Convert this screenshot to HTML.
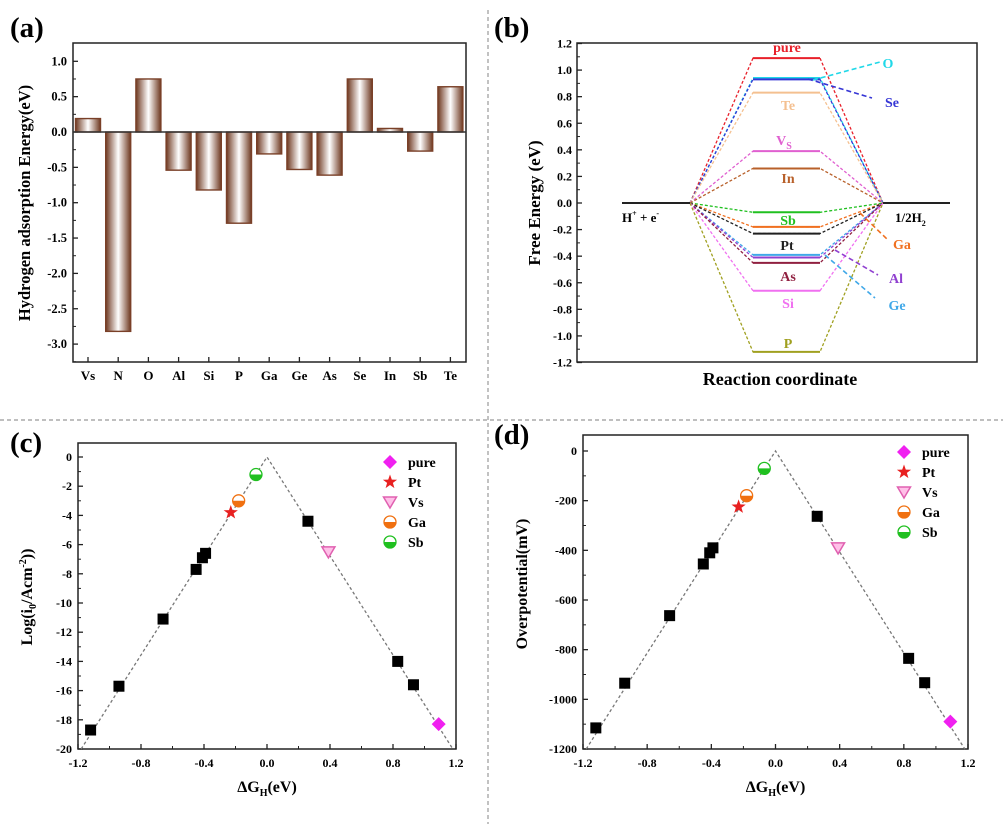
<!DOCTYPE html>
<html><head><meta charset="utf-8">
<style>
html,body{margin:0;padding:0;background:#fff;}
svg{display:block;font-family:"Liberation Serif",serif;font-weight:bold;}
</style></head>
<body>
<svg id="fig" width="1003" height="824" viewBox="0 0 1003 824" xmlns="http://www.w3.org/2000/svg">
<defs>
<linearGradient id="barg" x1="0" x2="1" y1="0" y2="0">
<stop offset="0" stop-color="#6e3820"/><stop offset="0.5" stop-color="#ffffff"/><stop offset="1" stop-color="#6e3820"/>
</linearGradient>
</defs>
<line x1="0" y1="420" x2="1003" y2="420" stroke="#999" stroke-dasharray="4,3" stroke-width="1.2"/>
<line x1="488" y1="10" x2="488" y2="824" stroke="#999" stroke-dasharray="4,3" stroke-width="1.2"/>
<text x="10" y="37" font-size="29">(a)</text>
<text x="494" y="37" font-size="29">(b)</text>
<text x="10" y="452" font-size="29">(c)</text>
<text x="494" y="444" font-size="29">(d)</text>
<g id="pa"></g><g id="pb"></g><g id="pc"></g><g id="pd"></g>
</svg>
<script>
// ---------- Panel (a) data ----------
const aCategories = ["Vs","N","O","Al","Si","P","Ga","Ge","As","Se","In","Sb","Te"];
const aValues = [0.19,-2.82,0.75,-0.54,-0.82,-1.29,-0.31,-0.53,-0.61,0.75,0.05,-0.27,0.64];
const aTicks = [1.0,0.5,0.0,-0.5,-1.0,-1.5,-2.0,-2.5,-3.0];
// ---------- Panel (b) data ----------
const bNames = ["pure","O","Se","Te","Vs","In","Sb","Ga","Pt","Ge","Al","As","Si","P"];
const bLevels = [1.09,0.94,0.93,0.83,0.39,0.26,-0.07,-0.18,-0.23,-0.39,-0.41,-0.45,-0.66,-1.12];
const bColors = ["#e8202a","#20d8e8","#3535d5","#f4c090","#e060d0","#b8602a","#20c020","#f07020","#202020","#40a8e8","#9040d0","#902040","#f070f0","#a0a020"];
const bTicks = [1.2,1.0,0.8,0.6,0.4,0.2,0.0,-0.2,-0.4,-0.6,-0.8,-1.0,-1.2];
// ---------- Panels (c),(d) data ----------
const cdNames = ["P","Si","As2","As","Al","Ge","In","Te","Se","pure","Pt","Vs","Ga","Sb"];
const cdDG = [-1.12,-0.94,-0.66,-0.45,-0.41,-0.39,0.26,0.83,0.93,1.09,-0.23,0.39,-0.18,-0.07];
const cdKind = ["sq","sq","sq","sq","sq","sq","sq","sq","sq","pure","Pt","Vs","Ga","Sb"];
const cLog = [-18.7,-15.7,-11.1,-7.7,-6.9,-6.6,-4.4,-14.0,-15.6,-18.3,-3.8,-6.5,-3.0,-1.2];
const dEta = [-1115,-935,-663,-455,-410,-390,-263,-835,-933,-1090,-225,-390,-180,-70];
const cTicksY = [0,-2,-4,-6,-8,-10,-12,-14,-16,-18,-20];
const dTicksY = [0,-200,-400,-600,-800,-1000,-1200];
const xTicksCD = [-1.2,-0.8,-0.4,0.0,0.4,0.8,1.2];
const legendNames = ["pure","Pt","Vs","Ga","Sb"];

const NS="http://www.w3.org/2000/svg";
function mk(parent,tag,attrs,txt){const e=document.createElementNS(NS,tag);for(const k in attrs)e.setAttribute(k,attrs[k]);if(txt!==undefined)e.textContent=txt;parent.appendChild(e);return e;}
function fmt1(v){return v.toFixed(1);}

// ===== Panel A =====
(function(){
const g=document.getElementById('pa');
const L=73,R=466,T=43,B=362;
const y=v=>132-v*70.7;
const x=i=>88+i*30.2;
const box=mk(g,'rect',{x:L,y:T,width:R-L,height:B-T,fill:'none',stroke:'#222','stroke-width':1.5});


aTicks.forEach(t=>{
  const tl=mk(g,'line',{x1:L,x2:L+5,y1:y(t),y2:y(t),stroke:'#222','stroke-width':1.3});
  
  
  const mt=mk(g,'line',{x1:L,x2:L+3,y1:y(t-0.25),y2:y(t-0.25),stroke:'#222','stroke-width':1});
  
  
  const tx=mk(g,'text',{x:L-6,y:y(t)+4,'font-size':12.5,'text-anchor':'end'},fmt1(t));
  
  
});
aCategories.forEach((c,i)=>{
  const v=aValues[i];
  const bar=mk(g,'rect',{x:x(i)-12.5,y:Math.min(y(v),y(0)),width:25,height:Math.abs(y(v)-y(0)),fill:'url(#barg)',stroke:'#7a4028','stroke-width':1.4});
  
  
  const tk=mk(g,'line',{x1:x(i),x2:x(i),y1:B,y2:B-5,stroke:'#222','stroke-width':1.3});
  
  
  const lb=mk(g,'text',{x:x(i),y:380,'font-size':13,'text-anchor':'middle'},c);
  
  
});
const zl=mk(g,'line',{x1:L,x2:R,y1:y(0),y2:y(0),stroke:'#333','stroke-width':1.5});


const yt=mk(g,'text',{x:0,y:0,'font-size':16.5,'text-anchor':'middle',transform:'translate(30,203) rotate(-90)'},'Hydrogen adsorption Energy(eV)');


})();

// ===== Panel B =====
(function(){
const g=document.getElementById('pb');
const L=577,R=977,T=43,B=362;
const y=v=>203-v*(319/2.4);
const box=mk(g,'rect',{x:L,y:T,width:R-L,height:B-T,fill:'none',stroke:'#222','stroke-width':1.5});


bTicks.forEach(t=>{
  const tl=mk(g,'line',{x1:L,x2:L+5,y1:y(t),y2:y(t),stroke:'#222','stroke-width':1.3});
  
  
  if(t>-1.2){
    const mt=mk(g,'line',{x1:L,x2:L+3,y1:y(t-0.1),y2:y(t-0.1),stroke:'#222','stroke-width':1});
    
    
  }
  const tx=mk(g,'text',{x:L-5,y:y(t)+4,'font-size':12,'text-anchor':'end'},fmt1(t));
  
  
});
const x0=690,x1=753,x2=820,x3=883;
bNames.forEach((n,i)=>{
  const v=bLevels[i],c=bColors[i];
  const p=mk(g,'polyline',{points:`${x0},${y(0)} ${x1},${y(v)} ${x2},${y(v)} ${x3},${y(0)}`,fill:'none',stroke:c,'stroke-width':1.3,'stroke-dasharray':'3,2'});
  
  
  const l=mk(g,'line',{x1:x1,x2:x2,y1:y(v),y2:y(v),stroke:c,'stroke-width':2});
  
  
});
const base1=mk(g,'line',{x1:622,x2:690,y1:y(0),y2:y(0),stroke:'#222','stroke-width':2});


const base2=mk(g,'line',{x1:883,x2:950,y1:y(0),y2:y(0),stroke:'#222','stroke-width':2});


const labs=[["pure",787,52,0],["Te",788,110,3],["Vs",784,145,4],["In",788,183,5],["Sb",788,225,6],["Pt",787,250,8],["As",788,281,11],["Si",788,308,12],["P",788,348,13]];
labs.forEach(a=>{
  const t=mk(g,'text',{x:a[1],y:a[2],'font-size':14,'text-anchor':'middle',fill:bColors[a[3]]},a[0]==="Vs"?"V":a[0]);
  if(a[0]==="Vs"){mk(t,'tspan',{'font-size':10,dy:4},'S');}
  
  
});
const ptr=[["O",888,68,1,813,80,880,62],["Se",892,107,2,808,79,872,98],["Ga",902,249,7,860,213,888,240],["Al",896,283,10,835,250,878,275],["Ge",897,310,9,825,255,875,298]];
ptr.forEach(a=>{
  const l=mk(g,'line',{x1:a[4],y1:a[5],x2:a[6],y2:a[7],stroke:bColors[a[3]],'stroke-width':1.6,'stroke-dasharray':'5,3'});
  
  
  const t=mk(g,'text',{x:a[1],y:a[2],'font-size':14,'text-anchor':'middle',fill:bColors[a[3]]},a[0]);
  
  
});
const h=mk(g,'text',{x:622,y:222,'font-size':13},'H');
mk(h,'tspan',{'font-size':8,dy:-6},'+');
mk(h,'tspan',{dy:6},' + e');
mk(h,'tspan',{'font-size':8,dy:-6},'-');


const h2=mk(g,'text',{x:895,y:222,'font-size':13},'1/2H');
mk(h2,'tspan',{'font-size':8,dy:4},'2');


const yt=mk(g,'text',{x:0,y:0,'font-size':17,'text-anchor':'middle',transform:'translate(540,203) rotate(-90)'},'Free Energy (eV)');


const xt=mk(g,'text',{x:780,y:385,'font-size':18,'text-anchor':'middle'},'Reaction coordinate');


})();

// ===== Markers =====
function marker(g,kind,cx,cy){
  let e;
  if(kind==="sq") e=mk(g,'rect',{x:cx-5.5,y:cy-5.5,width:11,height:11,fill:'#000'});
  else if(kind==="pure") e=mk(g,'polygon',{points:`${cx},${cy-7} ${cx+7},${cy} ${cx},${cy+7} ${cx-7},${cy}`,fill:'#f020f0'});
  else if(kind==="Pt"){let p=[];for(let k=0;k<10;k++){const r=k%2?3:7.5,a=-Math.PI/2+k*Math.PI/5;p.push((cx+r*Math.cos(a)).toFixed(1)+','+(cy+r*Math.sin(a)).toFixed(1));}e=mk(g,'polygon',{points:p.join(' '),fill:'#e82020'});}
  else if(kind==="Vs") e=mk(g,'polygon',{points:`${cx-6.5},${cy-5} ${cx+6.5},${cy-5} ${cx},${cy+6}`,fill:'#ffc0e8',stroke:'#e060b0','stroke-width':1.5});
  else {
    const col=kind==="Ga"?'#f07010':'#20c020';
    e=mk(g,'g',{});
    mk(e,'circle',{cx:cx,cy:cy,r:6,fill:'#fff',stroke:col,'stroke-width':1.3});
    mk(e,'path',{d:`M${cx-6},${cy} A6,6 0 0 0 ${cx+6},${cy} Z`,fill:col});
  }
  return e;
}

function scatterPanel(gid,L,R,T,B,y0px,yBot,yBotPx,yVals,yTicks,ylabFmt,legX,legY,tag){
  const g=document.getElementById(gid);
  const x=v=>L+(v+1.2)/2.4*(R-L);
  const y=v=>y0px+v/yBot*(yBotPx-y0px);
  const box=mk(g,'rect',{x:L,y:T,width:R-L,height:B-T,fill:'none',stroke:'#222','stroke-width':1.5});
  
  
  const ystep=yTicks[0]-yTicks[1];
  yTicks.forEach((t,i)=>{
    const tl=mk(g,'line',{x1:L,x2:L+5,y1:y(t),y2:y(t),stroke:'#222','stroke-width':1.3});
    
    
    if(i<yTicks.length-1){
      const mt=mk(g,'line',{x1:L,x2:L+3,y1:y(t-ystep/2),y2:y(t-ystep/2),stroke:'#222','stroke-width':1});
      
      
    }
    const tx=mk(g,'text',{x:L-6,y:y(t)+4,'font-size':12,'text-anchor':'end'},ylabFmt(t));
    
    
  });
  xTicksCD.forEach((t,i)=>{
    const tl=mk(g,'line',{x1:x(t),x2:x(t),y1:B,y2:B-5,stroke:'#222','stroke-width':1.3});
    
    
    if(i<xTicksCD.length-1){
      const mt=mk(g,'line',{x1:x(t+0.2),x2:x(t+0.2),y1:B,y2:B-3,stroke:'#222','stroke-width':1});
      
      
    }
    const tx=mk(g,'text',{x:x(t),y:B+18,'font-size':12,'text-anchor':'middle'},fmt1(t));
    
    
  });
  const ln=mk(g,'polyline',{points:`${x(-1.18)},${y(yBot)} ${x(0)},${y(0)} ${x(1.18)},${y(yBot)}`,fill:'none',stroke:'#777','stroke-width':1.3,'stroke-dasharray':'3,2.5'});
  
  
  cdDG.forEach((dg,i)=>{
    const m=marker(g,cdKind[i],x(dg),y(yVals[i]));
    
    
  });
  legendNames.forEach((n,i)=>{
    const m=marker(g,n,legX,legY+i*20);
    
    
    const t=mk(g,'text',{x:legX+18,y:legY+i*20+5,'font-size':14},n);
    
    
  });
  const xt=mk(g,'text',{x:(L+R)/2,y:B+43,'font-size':16,'text-anchor':'middle'},'ΔG');
  mk(xt,'tspan',{'font-size':10,dy:4},'H');
  mk(xt,'tspan',{dy:-4},'(eV)');
  
  
}
scatterPanel('pc',78,456,443,749,457,-20,749,cLog,cTicksY,t=>String(t),390,462,'c');
scatterPanel('pd',583,968,435,749,451,-1200,749,dEta,dTicksY,t=>String(t),904,452,'d');
(function(){
  const gc=document.getElementById('pc');
  const t=mk(gc,'text',{x:0,y:0,'font-size':16,'text-anchor':'middle',transform:'translate(32,597) rotate(-90)'},'Log(i');
  mk(t,'tspan',{'font-size':10,dy:4},'0');
  mk(t,'tspan',{dy:-4},'/Acm');
  mk(t,'tspan',{'font-size':10,dy:-6},'-2');
  mk(t,'tspan',{dy:6},'))');
  
  
  const gd=document.getElementById('pd');
  const t2=mk(gd,'text',{x:0,y:0,'font-size':16,'text-anchor':'middle',transform:'translate(527,584) rotate(-90)'},'Overpotential(mV)');
  
  
})();
</script>
</body></html>
